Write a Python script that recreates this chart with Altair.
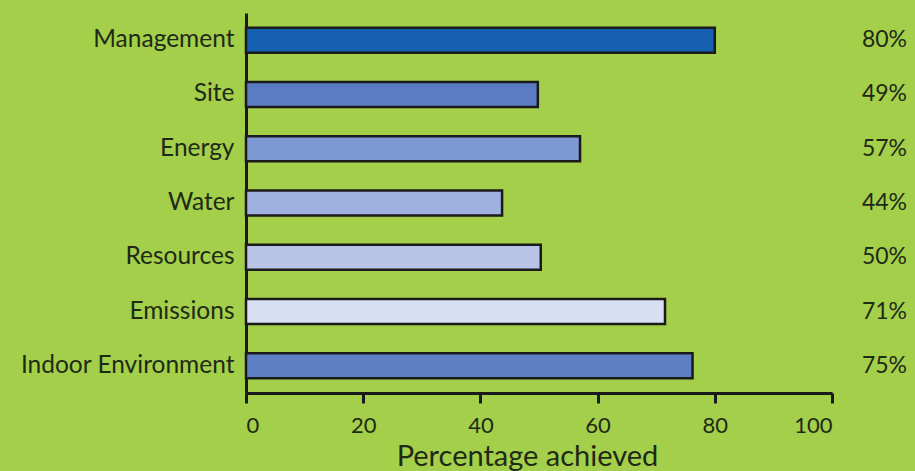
import altair as alt
import pandas as pd

categories = ["Management", "Site", "Energy", "Water", "Resources", "Emissions", "Indoor Environment"]
values = [80, 49.8, 57, 43.7, 50.3, 71.5, 76.2]
labels = ["80%", "49%", "57%", "44%", "50%", "71%", "75%"]
colors = ["#1560b0", "#5a7cc2", "#7d98d3", "#9fb1de", "#b9c5e6", "#d9dff3", "#5f7fc5"]
x_ticks = [0, 20, 40, 60, 80, 100]

df = pd.DataFrame({"category": categories, "value": values, "label": labels, "color": colors})

FONT = "Lato"
TXT = "#1f2a16"
BG = "#a3cf4b"

y = alt.Y("category:N", sort=categories,
          scale=alt.Scale(paddingInner=0.54, paddingOuter=0.27),
          axis=alt.Axis(title=None, ticks=False, domain=True, domainColor="#1a1a1a",
                        domainWidth=3, labelFont=FONT, labelFontSize=24.5, labelColor=TXT,
                        labelPadding=12, labelLimit=300))
x = alt.X("value:Q", scale=alt.Scale(domain=[0, 100], nice=False),
          axis=alt.Axis(title="Percentage achieved", values=x_ticks, grid=False,
                        domainColor="#1a1a1a", domainWidth=3, tickColor="#1a1a1a",
                        tickWidth=3, tickSize=10, labelFont=FONT, labelFontSize=22,
                        labelColor=TXT, labelPadding=12, titleFont=FONT, titleFontSize=29,
                        titleFontWeight="normal", titleColor=TXT, titlePadding=6,
                        titleX=281, titleAlign="center"))

bars = alt.Chart(df).mark_bar(stroke="#1a1a1a", strokeWidth=2.5).encode(
    x=x, y=y, color=alt.Color("color:N", scale=None)
)

text = alt.Chart(df).mark_text(align="right", baseline="middle", font=FONT,
                               fontSize=23, color=TXT, clip=False).encode(
    x=alt.datum(112.8), y=alt.Y("category:N", sort=categories), text="label:N"
)

chart = (bars + text).properties(
    width=586, height=380,
    background=BG,
    padding={"left": 246, "top": 13, "right": 83, "bottom": 78},
    autosize=alt.AutoSizeParams(type="none"),
).configure_view(stroke=None)

chart.save("out.html", embed_options={"renderer": "svg", "actions": False})
